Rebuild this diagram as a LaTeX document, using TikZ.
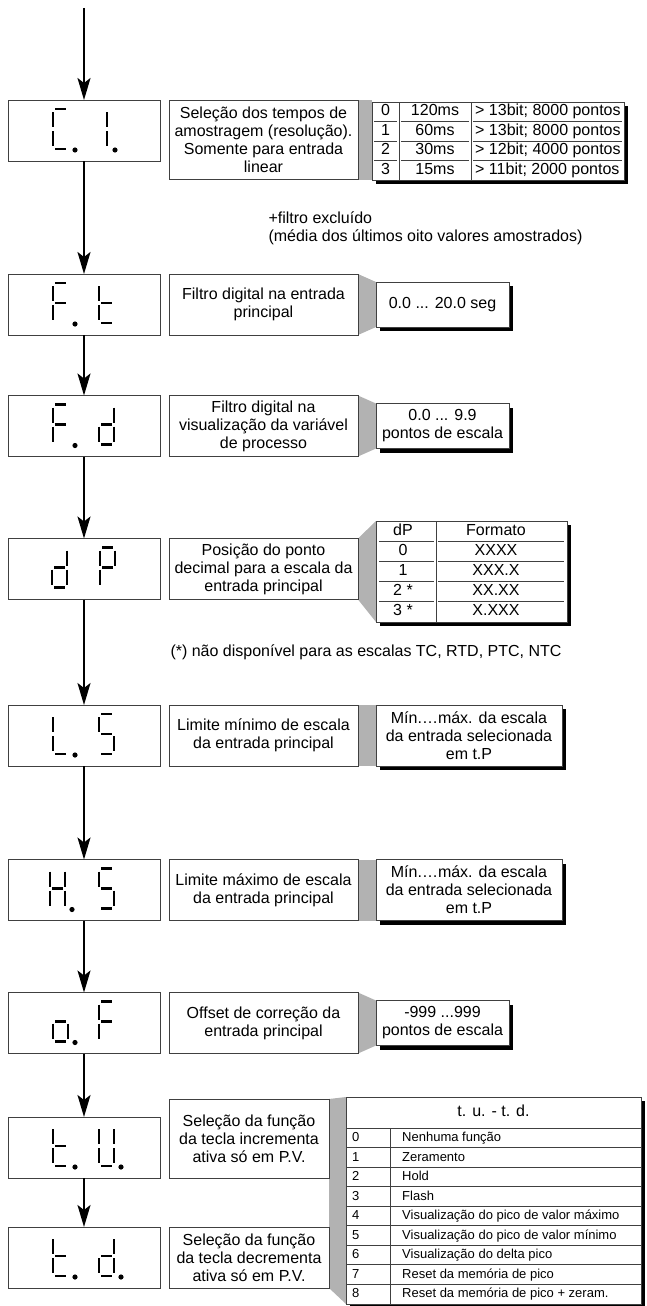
\documentclass[tikz,border=0pt]{standalone}
\usepackage{fontspec}
\setmainfont{Liberation Sans}
\usetikzlibrary{positioning, arrows.meta, shadows, backgrounds}

% seven segment pieces (origin = top left of the digit, y grows downwards)
\newcommand{\sega}{\draw[seg] (2,0) -- (13,0);}
\newcommand{\segb}{\draw[seg] (15,3) -- (15,18);}
\newcommand{\segc}{\draw[seg] (15,22) -- (15,37);}
\newcommand{\segd}{\draw[seg] (2,40) -- (13,40);}
\newcommand{\sege}{\draw[seg] (0,22) -- (0,37);}
\newcommand{\segf}{\draw[seg] (0,3) -- (0,18);}
\newcommand{\segg}{\draw[seg] (2,20) -- (13,20);}
\newcommand{\segchar}[2]{\begin{scope}[xshift=#1]\foreach \s in {#2}{\csname seg\s\endcsname}\end{scope}}
\newcommand{\segdot}[1]{\fill (#1,41) circle (2.6pt);}

\begin{document}
\begin{tikzpicture}[
    x=1pt, y=-1pt,
    font=\fontsize{16}{18}\selectfont,
    disp/.style={
        draw=black!75, line width=0.9pt,
        minimum width=152pt, minimum height=61pt,
        inner sep=0pt, outer sep=0pt,
    },
    desc/.style={
        draw=black!75, line width=0.9pt,
        minimum width=189pt, minimum height=61pt,
        inner sep=0pt, outer sep=0pt, align=center,
    },
    valbox/.style={
        draw=black!75, line width=0.9pt, fill=white,
        minimum width=133pt, minimum height=45pt,
        inner sep=0pt, outer sep=0pt, align=center,
        drop shadow={shadow xshift=4pt, shadow yshift=-4pt, fill=black, opacity=1},
    },
    link/.style={fill=black!30},
    seg/.style={line width=2.2pt},
    flow/.style={-{Stealth[length=22pt, width=13pt, inset=5pt]}, line width=2pt},
    rule/.style={line width=0.8pt, draw=black!75},
    cell/.style={inner sep=0pt, text height=11pt, text depth=3pt},
    small/.style={cell, font=\fontsize{13}{16}\selectfont},
    note/.style={align=left, anchor=west},
    digits at/.style={shift={(#1.north west)}, yshift=-9pt},
]
\useasboundingbox (0,0) rectangle (646,1306);

% ============ DISPLAYS ============
\node[disp] (ci)  at (84,130.5)  {};
\node[disp] (ft)  at (84,304.5)  {};
\node[disp] (fd)  at (84,426)    {};
\node[disp] (dp)  at (84,569)    {};
\node[disp] (ls)  at (84,735.5)  {};
\node[disp] (hs)  at (84,890)    {};
\node[disp] (ofs) at (84,1023)   {};
\node[disp] (tu)  at (84,1147.5) {};
\node[disp] (td)  at (84,1257.5) {};

% ============ DESCRIPTIONS ============
\node[desc, minimum height=79pt, anchor=north west] (cid) at ([xshift=9pt]ci.north east)
    {Seleção dos tempos de\\amostragem (resolução).\\Somente para entrada\\linear};
\node[desc, right=9pt of ft]  (ftd)  {Filtro digital na entrada\\principal};
\node[desc, right=9pt of fd]  (fdd)  {Filtro digital na\\visualização da variável\\de processo};
\node[desc, right=9pt of dp]  (dpd)  {Posição do ponto\\decimal para a escala da\\entrada principal};
\node[desc, right=9pt of ls]  (lsd)  {Limite mínimo de escala\\da entrada principal};
\node[desc, right=9pt of hs]  (hsd)  {Limite máximo de escala\\da entrada principal};
\node[desc, right=9pt of ofs] (ofsd) {Offset de correção da\\entrada principal};
\node[desc, minimum width=160pt, minimum height=79pt, anchor=south west] (tud) at ([xshift=9pt]tu.south east)
    {Seleção da função\\da tecla incrementa\\ativa só em P.V.};
\node[desc, minimum width=160pt, right=9pt of td] (tdd) {Seleção da função\\da tecla decrementa\\ativa só em P.V.};

% ============ VALUES ============
\node[valbox, minimum width=252pt, minimum height=78pt, anchor=north west] (smp)
    at ([xshift=14pt, yshift=-2pt]cid.north east) {};
\node[valbox, right=18pt of ftd]  (ftv)  {0.0 ... 20.0 seg};
\node[valbox, right=18pt of fdd]  (fdv)  {0.0 ... 9.9\\pontos de escala};
\node[valbox, minimum width=191pt, minimum height=101pt, right=18pt of dpd, yshift=-2.5pt] (fmt) {};
\node[valbox, minimum width=186pt, minimum height=61pt, right=18pt of lsd] (lsv)
    {Mín.…máx. da escala\\da entrada selecionada\\em t.P};
\node[valbox, minimum width=186pt, minimum height=61pt, right=18pt of hsd] (hsv)
    {Mín.…máx. da escala\\da entrada selecionada\\em t.P};
\node[valbox, right=18pt of ofsd] (ofsv) {-999 ...999\\pontos de escala};
\node[valbox, minimum width=295pt, minimum height=207pt, anchor=north west] (keys) at (346,1097) {};

% notes
\node[note] (filt) at (265,228.5) {+filtro excluído\\(média dos últimos oito valores amostrados)};
\node[note] (star) at (167,652) {(*) não disponível para as escalas TC, RTD, PTC, NTC};

% ============ TABLES ============
% sampling times
\begin{scope}[shift={(smp.north west)}]
    \draw[rule] (27,0) -- (27,78) (99,0) -- (99,78);
    \foreach \y in {19.5,39,58.5}
        \draw[rule] (2,\y) -- (25,\y) (29,\y) -- (97,\y) (101,\y) -- (250,\y);
    \foreach \n/\t/\r [count=\i from 0] in {0/120ms/{> 13bit; 8000 pontos},
            1/60ms/{> 13bit; 8000 pontos}, 2/30ms/{> 12bit; 4000 pontos}, 3/15ms/{> 11bit; 2000 pontos}} {
        \node[cell] (smp-n\i) at (13.5,\i*19.5+9.75) {\n};
        \node[cell] (smp-t\i) at (63,\i*19.5+9.75) {\t};
        \node[cell, anchor=west] (smp-r\i) at (103,\i*19.5+9.75) {\r};
    }
\end{scope}

% decimal point formats
\begin{scope}[shift={(fmt.north west)}]
    \draw[rule] (60,0) -- (60,101);
    \foreach \y in {20.2,40.4,60.6,80.8}
        \draw[rule] (3,\y) -- (58,\y) (62,\y) -- (188,\y);
    \foreach \n/\f [count=\i from 0] in {dP/Formato, 0/XXXX, 1/XXX.X, 2 */XX.XX, 3 */X.XXX} {
        \node[cell] (fmt-n\i) at (27,\i*20.2+10.1) {\n};
        \node[cell] (fmt-f\i) at (120,\i*20.2+10.1) {\f};
    }
\end{scope}

% key functions
\begin{scope}[shift={(keys.north west)}]
    \node[cell] (keys-h) at (147.5,15.5) {t. u. - t. d.};
    \draw[rule] (44,31) -- (44,207);
    \foreach \k in {0,...,8}
        \draw[rule] (0,31+\k*19.5) -- (295,31+\k*19.5);
    \foreach \f [count=\i from 0] in {Nenhuma função, Zeramento, Hold, Flash,
            Visualização do pico de valor máximo, Visualização do pico de valor mínimo,
            Visualização do delta pico, Reset da memória de pico, Reset da memória de pico + zeram.} {
        \node[small, anchor=west] (keys-n\i) at (6,40.75+\i*19.5) {\i};
        \node[small, anchor=west] (keys-f\i) at (56,40.75+\i*19.5) {\f};
    }
\end{scope}

% ============ DISPLAY DIGITS ============
\begin{scope}[digits at=ci]  \segchar{45}{a,d,e,f} \segchar{84}{b,c} \segdot{67} \segdot{107} \end{scope}
\begin{scope}[digits at=ft]  \segchar{45}{a,f,e,g} \segchar{91}{f,e,g,d} \segdot{67} \end{scope}
\begin{scope}[digits at=fd]  \segchar{45}{a,f,e,g} \segchar{91}{b,c,d,e,g} \segdot{67} \end{scope}
\begin{scope}[digits at=dp]  \segchar{44}{b,c,d,e,g} \segchar{92}{a,b,f,g,e} \end{scope}
\begin{scope}[digits at=ls]  \segchar{45}{f,e,d} \segchar{91}{a,f,g,c,d} \segdot{67} \end{scope}
\begin{scope}[digits at=hs]  \segchar{42}{f,e,b,c,g} \segchar{91}{a,f,g,c,d} \segdot{64} \end{scope}
\begin{scope}[digits at=ofs] \segchar{45}{g,c,d,e} \segchar{91}{a,f,g,e} \segdot{67} \end{scope}
\begin{scope}[digits at=tu]  \segchar{45}{f,e,g,d} \segchar{91}{b,c,d,e,f} \segdot{67} \segdot{113} \end{scope}
\begin{scope}[digits at=td]  \segchar{45}{f,e,g,d} \segchar{91}{b,c,d,e,g} \segdot{67} \segdot{113} \end{scope}

% ============ ARROWS ============
\coordinate (start) at (84,8);
\draw[flow] (start)    -- (ci.north);
\draw[flow] (ci.south) -- (ft.north);
\draw[flow] (ft.south) -- (fd.north);
\draw[flow] (fd.south) -- (dp.north);
\draw[flow] (dp.south) -- (ls.north);
\draw[flow] (ls.south) -- (hs.north);
\draw[flow] (hs.south) -- (ofs.north);
\draw[flow] (ofs.south) -- (tu.north);
\draw[flow] (tu.south) -- (td.north);

% ============ GREY LINKS ============
\begin{pgfonlayer}{background}
    \fill[link] (cid.north east) rectangle (smp.south west);
    \fill[link] (ftd.north east) -- (ftv.north west) -- (ftv.south west) -- (ftd.south east) -- cycle;
    \fill[link] (fdd.north east) -- (fdv.north west) -- (fdv.south west) -- (fdd.south east) -- cycle;
    \fill[link] (dpd.north east) -- (fmt.north west) -- (fmt.south west) -- (dpd.south east) -- cycle;
    \fill[link] (lsd.north east) rectangle (lsv.south west);
    \fill[link] (hsd.north east) rectangle (hsv.south west);
    \fill[link] (ofsd.north east) -- (ofsv.north west) -- (ofsv.south west) -- (ofsd.south east) -- cycle;
    \fill[link] (tud.north east) -- (keys.north west) -- (keys.south west) -- (tdd.south east) -- cycle;
\end{pgfonlayer}

\end{tikzpicture}
\end{document}
